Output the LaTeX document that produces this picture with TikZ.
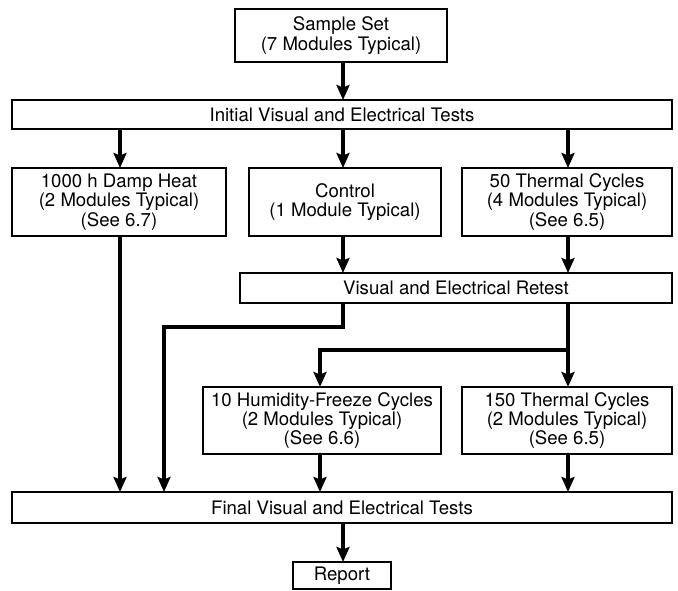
\documentclass[tikz,border=0pt]{standalone}
\usepackage{fontspec}
\setmainfont{TeX Gyre Heros}
\usetikzlibrary{arrows.meta}
\begin{document}
\begin{tikzpicture}[x=1pt,y=1pt,
  box/.style={draw, line width=1.6pt, rectangle, inner sep=0pt, outer sep=0pt,
    align=center, font=\fontsize{18.6}{19.2}\selectfont},
  arr/.style={line width=3.8pt, line join=miter,
    -{Stealth[length=15pt,width=13pt,inset=2.5pt]}}]
\useasboundingbox (0,0) rectangle (678,590);
\node[box, minimum width=212pt, minimum height=53pt] (sample) at (341,554.5)
  {Sample Set\\(7 Modules Typical)};
\node[box, minimum width=660pt, minimum height=29pt] (initial) at (342,475.5)
  {Initial Visual and Electrical Tests};
\node[box, minimum width=214pt, minimum height=68pt] (damp) at (119,388)
  {1000 h Damp Heat\\(2 Modules Typical)\\(See 6.7)};
\node[box, minimum width=192pt, minimum height=68pt] (control) at (345,388)
  {Control\\(1 Module Typical)};
\node[box, minimum width=210pt, minimum height=68pt] (therma) at (567,388)
  {50 Thermal Cycles\\(4 Modules Typical)\\(See 6.5)};
\node[box, minimum width=432pt, minimum height=30pt] (retest) at (456,302)
  {Visual and Electrical Retest};
\node[box, minimum width=238pt, minimum height=67pt] (humid) at (322,169.5)
  {10 Humidity-Freeze Cycles\\(2 Modules Typical)\\(See 6.6)};
\node[box, minimum width=210pt, minimum height=67pt] (thermb) at (567,169.5)
  {150 Thermal Cycles\\(2 Modules Typical)\\(See 6.5)};
\node[box, minimum width=660pt, minimum height=31pt] (final) at (342,82.5)
  {Final Visual and Electrical Tests};
\node[box, minimum width=98pt, minimum height=27pt] (report) at (342,14.5)
  {Report};
\coordinate (cx) at (343,0);
\coordinate (tx) at (568,0);
\coordinate (dx) at (120,0);
\coordinate (hx) at (320,0);
\coordinate (elbow) at (164,263);
\coordinate (branch) at (568,240);
\draw[arr] (sample.south -| cx) -- (initial.north -| cx);
\draw[arr] (initial.south -| dx) -- (damp.north -| dx);
\draw[arr] (initial.south -| cx) -- (control.north -| cx);
\draw[arr] (initial.south -| tx) -- (therma.north -| tx);
\draw[arr] (control.south -| cx) -- (retest.north -| cx);
\draw[arr] (therma.south -| tx) -- (retest.north -| tx);
\draw[arr] (damp.south -| dx) -- (final.north -| dx);
\draw[arr] (retest.south -| cx) |- (elbow) -- (elbow |- final.north);
\draw[arr] (retest.south -| tx) -- (thermb.north -| tx);
\draw[arr] (branch) -| (humid.north -| hx);
\draw[arr] (humid.south -| hx) -- (final.north -| hx);
\draw[arr] (thermb.south -| tx) -- (final.north -| tx);
\draw[arr] (final.south -| cx) -- (report.north -| cx);
\end{tikzpicture}
\end{document}
